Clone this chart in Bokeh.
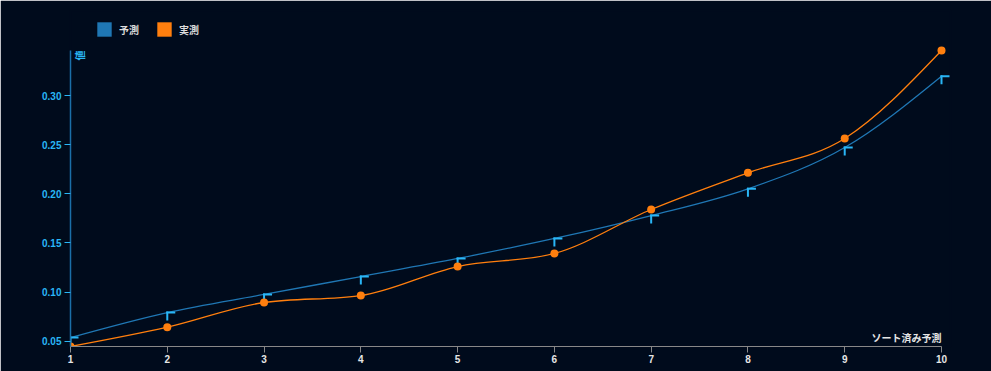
import math
from bokeh.plotting import figure
from bokeh.models import Range1d, FixedTicker, Label, PrintfTickFormatter, Legend, LegendItem
from bokeh.embed import file_html
from bokeh.resources import INLINE

# ---- data ----
ranks = [1, 2, 3, 4, 5, 6, 7, 8, 9, 10]
predicted = [0.0535, 0.0790, 0.0975, 0.1158, 0.1342, 0.1546, 0.1780, 0.2053, 0.2474, 0.3202]
actual = [0.0444, 0.0641, 0.0893, 0.0964, 0.1260, 0.1393, 0.1842, 0.2216, 0.2566, 0.3464]
y_ticks = [0.05, 0.10, 0.15, 0.20, 0.25, 0.30]
x_ticks = [1, 2, 3, 4, 5, 6, 7, 8, 9, 10]
series_names = ["予測", "実測"]
x_title = "ソート済み予測"
y_title = "値"

BG = "#000b1c"
BLUE = "#1f77b4"
ORANGE = "#ff7f0e"
LIGHT_BLUE = "#29b6f6"
AXIS_BLUE = "#1b6fa8"
FONT = "Liberation Sans, Noto Sans CJK JP"


def monotone_bezier(xs, ys):
    """Control points of a monotone-x cubic curve (as d3.curveMonotoneX)."""
    n = len(xs)
    sgn = lambda v: (v > 0) - (v < 0)
    t = [0.0] * n
    for i in range(1, n - 1):
        h0 = xs[i] - xs[i - 1]
        h1 = xs[i + 1] - xs[i]
        s0 = (ys[i] - ys[i - 1]) / h0
        s1 = (ys[i + 1] - ys[i]) / h1
        p = (s0 * h1 + s1 * h0) / (h0 + h1)
        t[i] = (sgn(s0) + sgn(s1)) * min(abs(s0), abs(s1), 0.5 * abs(p))
    h = xs[1] - xs[0]
    t[0] = (3 * (ys[1] - ys[0]) / h - t[1]) / 2
    h = xs[-1] - xs[-2]
    t[-1] = (3 * (ys[-1] - ys[-2]) / h - t[-2]) / 2
    d = dict(x0=[], y0=[], x1=[], y1=[], cx0=[], cy0=[], cx1=[], cy1=[])
    for i in range(n - 1):
        dx = (xs[i + 1] - xs[i]) / 3
        d["x0"].append(xs[i]); d["y0"].append(ys[i])
        d["x1"].append(xs[i + 1]); d["y1"].append(ys[i + 1])
        d["cx0"].append(xs[i] + dx); d["cy0"].append(ys[i] + dx * t[i])
        d["cx1"].append(xs[i + 1] - dx); d["cy1"].append(ys[i + 1] - dx * t[i + 1])
    return d


ymin = min(predicted + actual)
ymax = max(predicted + actual)
xmin, xmax = min(ranks), max(ranks)

# layout (pixels): axes box 70..941 x 50..346; frame padded on the right and top
W, H = 991, 371
AX_L, AX_R, AX_T, AX_B = 70, 941, 50, 346
PAD_R, TOP = 9, 10
x_ppu = (AX_R - AX_L) / (xmax - xmin)
y_ppu = (AX_B - AX_T) / (ymax - ymin)
x_end = xmax + PAD_R / x_ppu
y_end = ymax + (AX_T - TOP) / y_ppu

p = figure(width=W, height=H, output_backend="svg", toolbar_location=None,
           x_range=Range1d(xmin, x_end), y_range=Range1d(ymin, y_end),
           min_border_left=AX_L, min_border_right=W - (AX_R + PAD_R),
           min_border_top=TOP, min_border_bottom=H - AX_B,
           background_fill_color=BG, border_fill_color=BG)
p.outline_line_color = BG
p.outline_line_width = 2
p.xgrid.visible = False
p.ygrid.visible = False

# axes
p.xaxis.ticker = FixedTicker(ticks=x_ticks)
p.xaxis.bounds = (xmin, xmax)
p.xaxis.axis_line_color = "#888888"
p.xaxis.major_tick_line_color = "#888888"
p.xaxis.major_tick_in = 0
p.xaxis.major_tick_out = 6
p.xaxis.minor_tick_line_color = None
p.xaxis.major_label_text_color = "#e6e6e6"
p.xaxis.major_label_text_font = FONT
p.xaxis.major_label_text_font_size = "10px"
p.xaxis.major_label_text_font_style = "bold"
p.xaxis.major_label_standoff = 2

p.yaxis.ticker = FixedTicker(ticks=y_ticks)
p.yaxis.bounds = (ymin, ymax)
p.yaxis.formatter = PrintfTickFormatter(format="%.2f")
p.yaxis.axis_line_color = AXIS_BLUE
p.yaxis.axis_line_width = 1.5
p.yaxis.major_tick_line_color = LIGHT_BLUE
p.yaxis.major_tick_in = 0
p.yaxis.major_tick_out = 6
p.yaxis.minor_tick_line_color = None
p.yaxis.major_label_text_color = LIGHT_BLUE
p.yaxis.major_label_text_font = FONT
p.yaxis.major_label_text_font_size = "10px"
p.yaxis.major_label_text_font_style = "bold"
p.yaxis.major_label_standoff = 3

# legend proxies: zero-area boxes at the data points (invisible in the plot)
r_pred = p.quad(left=ranks, right=ranks, top=predicted, bottom=predicted,
                fill_color=BLUE, line_color=None)
r_act = p.quad(left=ranks, right=ranks, top=actual, bottom=actual,
               fill_color=ORANGE, line_color=None)

# curves
bp = monotone_bezier(ranks, predicted)
p.bezier(x0="x0", y0="y0", x1="x1", y1="y1", cx0="cx0", cy0="cy0", cx1="cx1", cy1="cy1",
         source=bp, line_color=BLUE, line_width=1.3)
ba = monotone_bezier(ranks, actual)
p.bezier(x0="x0", y0="y0", x1="x1", y1="y1", cx0="cx0", cy0="cy0", cx1="cx1", cy1="cy1",
         source=ba, line_color=ORANGE, line_width=1.3)

# predicted markers: corner shape
p.ray(x=ranks, y=predicted, length=7, length_units="screen", angle=0,
      line_color=LIGHT_BLUE, line_width=2, line_cap="square")
p.ray(x=ranks, y=predicted, length=7, length_units="screen", angle=-math.pi / 2,
      line_color=LIGHT_BLUE, line_width=2, line_cap="square")

# actual markers
p.scatter(x=ranks, y=actual, size=8, fill_color=ORANGE, line_color=None)

# axis titles
p.add_layout(Label(x=xmax, y=ymin, text=x_title, text_align="right",
                   text_baseline="alphabetic", y_offset=8, text_color="#e6e6e6",
                   text_font=FONT, text_font_size="10px", text_font_style="bold"))
p.add_layout(Label(x=xmin, y=ymax, text=y_title, angle=math.pi / 2,
                   text_align="right", text_baseline="top", x_offset=4,
                   text_color=LIGHT_BLUE, text_font=FONT, text_font_size="10px",
                   text_font_style="bold"))

# legend
lg = Legend(items=[LegendItem(label=series_names[0], renderers=[r_pred]),
                   LegendItem(label=series_names[1], renderers=[r_act])])
lg.orientation = "horizontal"
lg.location = (95 - AX_L, AX_B - 38)
lg.glyph_width = 18
lg.glyph_height = 18
lg.label_height = 18
lg.label_standoff = 6
lg.spacing = 16
lg.padding = 0
lg.margin = 0
lg.background_fill_alpha = 0
lg.border_line_alpha = 0
lg.label_text_color = "#dddddd"
lg.label_text_font = FONT
lg.label_text_font_size = "10px"
lg.label_text_font_style = "bold"
p.add_layout(lg, "center")

open("out.html", "w").write(file_html(p, INLINE))
